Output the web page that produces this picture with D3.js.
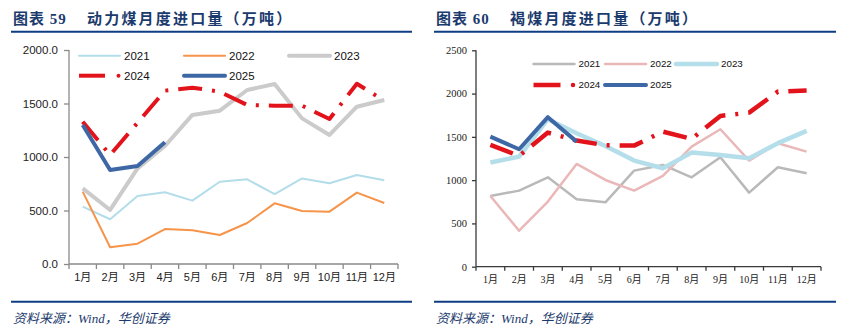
<!DOCTYPE html>
<html>
<head>
<meta charset="utf-8">
<script src="https://cdn.jsdelivr.net/npm/d3@7/dist/d3.min.js"></script>
<style>
  html, body { margin: 0; padding: 0; background: #ffffff; }
  svg { display: block; }
</style>
</head>
<body>
<svg id="page" width="844" height="334"></svg>
<script>
// ---- Data (万吨) ----
const months = ["1月","2月","3月","4月","5月","6月","7月","8月","9月","10月","11月","12月"];
const years = ["2021","2022","2023","2024","2025"];

// 动力煤月度进口量
const thermal2021 = [536, 418, 636, 670, 592, 769, 791, 654, 800, 754, 832, 782];
const thermal2022 = [676, 156, 190, 327, 315, 271, 383, 567, 495, 489, 667, 570];
const thermal2023 = [707, 505, 894, 1103, 1393, 1433, 1626, 1682, 1361, 1206, 1470, 1533];
const thermal2024 = [1330, 1019, 1320, 1620, 1648, 1610, 1486, 1480, 1480, 1355, 1685, 1526];
const thermal2025 = [1299, 879, 916, 1137];
const thermalTicks = [0, 500, 1000, 1500, 2000];

// 褐煤月度进口量
const lignite2021 = [817, 879, 1033, 779, 744, 1110, 1176, 1033, 1265, 856, 1149, 1080];
const lignite2022 = [817, 416, 752, 1187, 1002, 879, 1049, 1388, 1588, 1226, 1427, 1330];
const lignite2023 = [1203, 1272, 1704, 1542, 1395, 1226, 1137, 1318, 1291, 1253, 1427, 1569];
const lignite2024 = [1407, 1280, 1549, 1457, 1403, 1399, 1561, 1476, 1742, 1780, 2023, 2035];
const lignite2025 = [1503, 1357, 1727, 1445];
const ligniteTicks = [0, 500, 1000, 1500, 2000, 2500];

const svg = d3.select("#page");
const NAVY = "#1b3a6d";
const RULE = "#0e3d84";
const CJK = "'Noto Sans CJK SC', sans-serif";

// ---- Report frame: titles, rules, source notes ----
function frame(x0, x1, num, name) {
  const g = svg.append("g");
  g.append("text").attr("x", x0 + 2).attr("y", 24)
    .attr("font-family", "'Liberation Serif', " + CJK).attr("font-weight", "bold")
    .attr("font-size", 15).attr("fill", NAVY).attr("letter-spacing", 1)
    .text("图表 " + num);
  g.append("text").attr("x", x0 + 76).attr("y", 24)
    .attr("font-family", CJK).attr("font-weight", "bold")
    .attr("font-size", 15).attr("fill", NAVY).attr("letter-spacing", 2.2)
    .text(name);
  g.append("line").attr("x1", x0).attr("x2", x1).attr("y1", 31.7).attr("y2", 31.7)
    .attr("stroke", RULE).attr("stroke-width", 2);
  g.append("line").attr("x1", x0).attr("x2", x1).attr("y1", 301.7).attr("y2", 301.7)
    .attr("stroke", RULE).attr("stroke-width", 2);
  g.append("text").attr("x", x0 + 2).attr("y", 323)
    .attr("font-family", "'Liberation Serif', " + CJK).attr("font-style", "italic")
    .attr("font-size", 13).attr("fill", NAVY)
    .text("资料来源：Wind，华创证券");
}
frame(11, 412, "59", "动力煤月度进口量（万吨）");
frame(434, 836, "60", "褐煤月度进口量（万吨）");

// ---- Line chart builder ----
function lineChart(cfg) {
  const g = svg.append("g");
  const x = d3.scaleBand().domain(months).range([cfg.x0, cfg.x1]).paddingInner(0).paddingOuter(0);
  const y = d3.scaleLinear().domain([0, cfg.ymax]).range([cfg.yb, cfg.yt]);
  const cx = m => x(m) + x.bandwidth() / 2;

  // y axis
  const ya = g.append("g").attr("transform", `translate(${cfg.x0},0)`)
    .call(d3.axisLeft(y).tickValues(cfg.ticks).tickFormat(cfg.fmt)
      .tickSize(cfg.tick).tickPadding(cfg.yPad));
  ya.select(".domain").attr("stroke", cfg.axisColor).attr("stroke-width", 1.3)
    .attr("d", `M0,${cfg.yt}V${cfg.yb}`);
  ya.selectAll(".tick line").attr("stroke", cfg.axisColor).attr("stroke-width", 1.3);
  ya.selectAll(".tick text").attr("font-family", cfg.tickFont).attr("font-size", cfg.yFont)
    .attr("fill", "#222");

  // x axis: labels at category centres, tick marks at category boundaries
  const xa = g.append("g").attr("transform", `translate(0,${cfg.yb})`)
    .call(d3.axisBottom(x).tickSize(0).tickPadding(cfg.xPad));
  xa.select(".domain").attr("stroke", cfg.axisColor).attr("stroke-width", 1.3)
    .attr("d", `M${cfg.x0},0H${cfg.x1}`);
  xa.selectAll(".tick text").attr("font-family", cfg.tickFont).attr("font-size", cfg.xFont)
    .attr("fill", "#222");
  const bounds = months.map(m => x(m)).concat([cfg.x1]);
  xa.selectAll("line.bound").data(bounds).enter().append("line").attr("class", "bound")
    .attr("x1", d => d).attr("x2", d => d).attr("y1", 0).attr("y2", cfg.tick)
    .attr("stroke", cfg.axisColor).attr("stroke-width", 1.3);

  // series
  const line = d3.line().x((d, i) => cx(months[i])).y(d => y(d));
  cfg.series.forEach(s => {
    g.append("path").datum(s.values).attr("d", line)
      .attr("fill", "none").attr("stroke", s.color).attr("stroke-width", s.width)
      .attr("stroke-linejoin", "round")
      .attr("stroke-dasharray", s.dash || null);
  });

  // legend
  cfg.series.forEach((s, i) => {
    const p = cfg.legendPos[i];
    if (s.dash) {
      g.append("line").attr("x1", p.x).attr("x2", p.x + cfg.dashLen).attr("y1", p.y).attr("y2", p.y)
        .attr("stroke", s.color).attr("stroke-width", s.width);
      g.append("circle").attr("cx", p.x + cfg.dotAt).attr("cy", p.y).attr("r", s.width / 2)
        .attr("fill", s.color);
    } else {
      g.append("line").attr("x1", p.x).attr("x2", p.x + cfg.swatch).attr("y1", p.y).attr("y2", p.y)
        .attr("stroke", s.color).attr("stroke-width", s.width).attr("stroke-linecap", "round");
    }
    g.append("text").attr("x", p.x + cfg.swatch + cfg.textGap).attr("y", p.y)
      .attr("dy", "0.35em").attr("font-family", cfg.legendFont).attr("font-size", cfg.legendSize)
      .attr("fill", "#111").text(s.name);
  });
}

const RED = "#e3131b";
const BLUE = "#3d67a5";

lineChart({
  x0: 69, x1: 398, yt: 50, yb: 264, ymax: 2000, ticks: thermalTicks,
  fmt: d3.format(".1f"), tick: 5, yPad: 6, xPad: 9,
  axisColor: "#8a8a8a", tickFont: "'Liberation Sans', " + CJK, yFont: 11.5, xFont: 11,
  legendFont: "'Liberation Sans', sans-serif", legendSize: 11.5,
  swatch: 41, textGap: 4, dashLen: 26, dotAt: 39.5,
  legendPos: [{x: 79, y: 55.7}, {x: 184, y: 55.7}, {x: 289, y: 55.7}, {x: 79, y: 75.7}, {x: 184, y: 75.7}],
  series: [
    {name: years[0], values: thermal2021, color: "#b3dde9", width: 2},
    {name: years[1], values: thermal2022, color: "#f6944a", width: 2},
    {name: years[2], values: thermal2023, color: "#cbcbcb", width: 4},
    {name: years[3], values: thermal2024, color: RED, width: 4, dash: "24,10,3,10"},
    {name: years[4], values: thermal2025, color: BLUE, width: 4}
  ]
});

lineChart({
  x0: 476, x1: 821, yt: 50.3, yb: 266.7, ymax: 2500, ticks: ligniteTicks,
  fmt: d3.format("d"), tick: 4, yPad: 5, xPad: 9,
  axisColor: "#3a3a3a", tickFont: "'Liberation Serif', " + CJK, yFont: 10.5, xFont: 10,
  legendFont: "'Liberation Sans', sans-serif", legendSize: 9.8,
  swatch: 41, textGap: 4, dashLen: 27, dotAt: 39.5,
  legendPos: [{x: 533.5, y: 64}, {x: 605, y: 64}, {x: 676, y: 64}, {x: 533.5, y: 85}, {x: 605, y: 85}],
  series: [
    {name: years[0], values: lignite2021, color: "#b9b9b9", width: 2.5},
    {name: years[1], values: lignite2022, color: "#eab8b8", width: 2.5},
    {name: years[2], values: lignite2023, color: "#b4dfea", width: 4.5},
    {name: years[3], values: lignite2024, color: RED, width: 4.5, dash: "24,10,3,10"},
    {name: years[4], values: lignite2025, color: BLUE, width: 4}
  ]
});
</script>
</body>
</html>
